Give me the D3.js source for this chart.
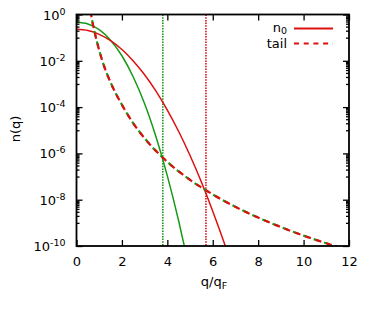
<!DOCTYPE html>
<html>
<head>
<meta charset="utf-8">
<script src="https://cdn.jsdelivr.net/npm/d3@7"></script>
<style>
  body { margin: 0; background: #fff; }
  svg { font-family: "DejaVu Sans", sans-serif; }
</style>
</head>
<body>
<svg></svg>
<script>
// values
const qRed   = [0, 0.5, 1, 1.5, 2, 2.5, 3, 3.5, 4, 4.5, 5, 5.5, 6, 6.5, 6.6];
const nRed   = [0.229, 0.202, 0.139, 0.074, 0.0308, 9.9e-3, 2.5e-3, 4.9e-4, 7.4e-5, 8.8e-6, 8.1e-7, 5.8e-8, 3.2e-9, 1.4e-10, 7.3e-11];
const qGreen = [0, 0.5, 1, 1.5, 2, 2.5, 3, 3.5, 4, 4.5, 4.8];
const nGreen = [0.457, 0.391, 0.222, 0.078, 0.0165, 2.0e-3, 1.4e-4, 5.2e-6, 1.07e-7, 1.2e-9, 5.9e-11];
const qTail  = [0.6, 0.7, 0.8, 1, 1.25, 1.5, 2, 2.5, 3, 4, 5, 6, 7, 8, 9, 10, 11, 11.5];
const nTail  = [1.68, 0.49, 0.169, 0.0283, 4.7e-3, 1.17e-3, 1.26e-4, 2.0e-5, 4.5e-6, 4.3e-7, 7.2e-8, 1.69e-8, 4.9e-9, 1.69e-9, 6.6e-10, 2.8e-10, 1.32e-10, 9.2e-11];
const cutGreen = 3.8;
const cutRed = 5.7;
const xTicks = [0, 2, 4, 6, 8, 10, 12];
const yTickExp = [0, -2, -4, -6, -8, -10];

const width = 374, height = 309;
const margin = {top: 14.5, right: 25, bottom: 63, left: 76.5};
const red = "#dd1010", green = "#179a17";

let svg = d3.select("svg").attr("width", width).attr("height", height);

let x = d3.scaleLinear().domain([0, 12]).range([margin.left, width - margin.right]);
let y = d3.scaleLog().domain([1e-10, 1]).range([height - margin.bottom, margin.top]);

svg.append("clipPath").attr("id", "clip")
  .append("rect")
  .attr("x", x(0)).attr("y", y(1))
  .attr("width", x(12) - x(0)).attr("height", y(1e-10) - y(1));

let plot = svg.append("g").attr("clip-path", "url(#clip)");

let line = d3.line()
  .x(d => x(d[0]))
  .y(d => y(d[1]))
  .curve(d3.curveMonotoneX);

const zip = (a, b) => a.map((v, i) => [v, b[i]]);

// cut-off lines
[[cutGreen, green], [cutRed, red]].forEach(c => {
  plot.append("line")
    .attr("x1", x(c[0])).attr("x2", x(c[0]))
    .attr("y1", y(1)).attr("y2", y(1e-10))
    .attr("stroke", c[1]).attr("stroke-width", 1.6)
    .attr("stroke-dasharray", "1.5,1.2");
});

plot.append("path").datum(zip(qGreen, nGreen))
  .attr("d", line).attr("fill", "none")
  .attr("stroke", green).attr("stroke-width", 1.5);
plot.append("path").datum(zip(qRed, nRed))
  .attr("d", line).attr("fill", "none")
  .attr("stroke", red).attr("stroke-width", 1.5);

plot.append("path").datum(zip(qTail, nTail))
  .attr("d", line).attr("fill", "none")
  .attr("stroke", green).attr("stroke-width", 2.2)
  .attr("stroke-dasharray", "6,5");
plot.append("path").datum(zip(qTail, nTail))
  .attr("d", line).attr("fill", "none")
  .attr("stroke", red).attr("stroke-width", 2.2)
  .attr("stroke-dasharray", "6,5")
  .attr("stroke-dashoffset", -2);

// axes (ticks inside, mirrored)
let minor = [];
yTickExp.slice(0, -1).forEach(e => {
  for (let m = 10; m <= 90; m += 10) minor.push(m * Math.pow(10, e - 2));
});

svg.append("g").attr("transform", `translate(0,${y(1e-10)})`)
  .call(d3.axisBottom(x).tickValues(xTicks).tickSizeInner(-6).tickSizeOuter(0).tickPadding(11));
svg.append("g").attr("transform", `translate(0,${y(1)})`)
  .call(d3.axisTop(x).tickValues(xTicks).tickSizeInner(-6).tickSizeOuter(0).tickFormat(""));
svg.append("g").attr("transform", `translate(${x(0)},0)`)
  .call(d3.axisLeft(y).tickValues(minor).tickSizeInner(-3).tickSizeOuter(0).tickFormat(""));
svg.append("g").attr("transform", `translate(${x(12)},0)`)
  .call(d3.axisRight(y).tickValues(minor).tickSizeInner(-3).tickSizeOuter(0).tickFormat(""));
svg.append("g").attr("transform", `translate(${x(12)},0)`)
  .call(d3.axisRight(y).tickValues(yTickExp.map(e => Math.pow(10, e))).tickSizeInner(-6).tickSizeOuter(0).tickFormat(""));
let yAxis = svg.append("g").attr("transform", `translate(${x(0)},0)`)
  .call(d3.axisLeft(y).tickValues(yTickExp.map(e => Math.pow(10, e))).tickSizeInner(-6).tickSizeOuter(0).tickFormat(""));

yAxis.selectAll(".tick").append("text")
  .attr("x", -11).attr("y", 4.5)
  .attr("text-anchor", "end")
  .attr("fill", "#000").attr("font-size", 13)
  .each(function(d) {
    let t = d3.select(this);
    t.append("tspan").text("10");
    t.append("tspan").attr("dy", -5).attr("font-size", 9.5).text(Math.round(Math.log10(d)));
  });

svg.selectAll(".domain").attr("stroke-width", 0);
svg.selectAll(".tick line").attr("stroke", "#000").attr("stroke-width", 1.3);
svg.selectAll(".tick text").attr("font-size", 13).attr("font-family", "DejaVu Sans").attr("fill", "#000");

svg.append("rect")
  .attr("x", x(0)).attr("y", y(1))
  .attr("width", x(12) - x(0)).attr("height", y(1e-10) - y(1))
  .attr("fill", "none").attr("stroke", "#000").attr("stroke-width", 1.8);

// titles
let xt = svg.append("text").attr("x", 214).attr("y", 286)
  .attr("text-anchor", "middle").attr("font-size", 13);
xt.append("tspan").text("q/q");
xt.append("tspan").attr("dy", 3).attr("font-size", 9.5).text("F");

svg.append("text")
  .attr("transform", "translate(20,129) rotate(-90)")
  .attr("text-anchor", "middle").attr("font-size", 13)
  .text("n(q)");

// legend
let lg = svg.append("g");
let t0 = lg.append("text").attr("x", 287).attr("y", 32).attr("text-anchor", "end").attr("font-size", 13);
t0.append("tspan").text("n");
t0.append("tspan").attr("dy", 2).attr("font-size", 9.5).text("0");
lg.append("line").attr("x1", 294).attr("x2", 333).attr("y1", 28.5).attr("y2", 28.5)
  .attr("stroke", red).attr("stroke-width", 1.8);
lg.append("text").attr("x", 287).attr("y", 48).attr("text-anchor", "end").attr("font-size", 13).text("tail");
lg.append("line").attr("x1", 294).attr("x2", 333).attr("y1", 43.5).attr("y2", 43.5)
  .attr("stroke", red).attr("stroke-width", 1.8).attr("stroke-dasharray", "5,4.7");
</script>
</body>
</html>
